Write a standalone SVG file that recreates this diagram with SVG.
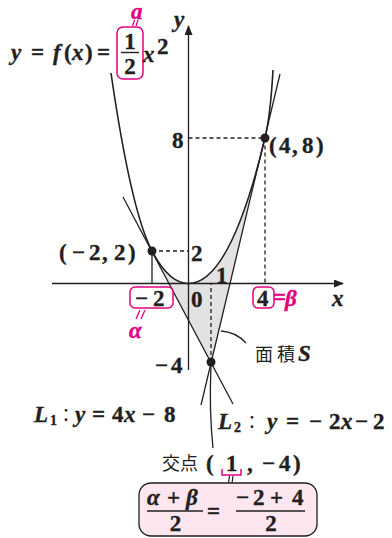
<svg xmlns="http://www.w3.org/2000/svg" width="392" height="538" viewBox="0 0 392 538">
<defs>
<style>
.t{font-family:"Liberation Serif","Times New Roman",serif;font-weight:bold;font-size:23px;fill:#231f20;stroke:#231f20;stroke-width:0.35}
.i{font-style:italic}
.n{font-style:normal}
.m{fill:#e4007f;stroke:#e4007f}
.j{font-family:"Noto Sans CJK JP",sans-serif;font-weight:normal;font-size:18px;fill:#231f20;stroke:none}
.ln{stroke:#231f20;stroke-width:1.3;fill:none}
.cv{stroke:#231f20;stroke-width:1.6;fill:none}
.ds{stroke:#231f20;stroke-width:1.3;stroke-dasharray:4 3;fill:none}
.mb{stroke:#e4007f;stroke-width:1.5;fill:#fff}
.mk{stroke:#e4007f;stroke-width:1.3;fill:none}
.dot{fill:#231f20}
</style>
<marker id="arr" viewBox="0 0 10 8" refX="9" refY="4" markerWidth="11" markerHeight="8" markerUnits="userSpaceOnUse" orient="auto">
<path d="M0,0 L10,4 L0,8 Z" fill="#231f20"/>
</marker>
</defs>
<rect width="392" height="538" fill="#fff"/>
<g id="area-S">
<path d="M152,251 Q169,283.5 188.5,283.5 Q230,283.5 265,138 L211,362 Z" fill="#e2e2e3"/>
</g>
<g id="connectors">
<line class="ln" x1="52" y1="283.5" x2="343" y2="283.5" marker-end="url(#arr)"/>
<line class="ln" x1="188.5" y1="370" x2="188.5" y2="26" marker-end="url(#arr)"/>
<path class="ds" d="M188.5,138 H265 V283.5"/>
<path class="ds" d="M152,251 H188.5"/>
<line class="ln" x1="152" y1="251" x2="152" y2="283.5"/>
<path class="ds" d="M211,362 V284"/>
<path class="cv" d="M111,73 Q131,211 152,251 Q169,283.5 188.5,283.5 Q230,283.5 265,138 Q270.5,115 273,70"/>
<line class="ln" x1="280" y1="74" x2="201" y2="405"/>
<line class="ln" x1="123" y1="197" x2="233" y2="404"/>
<path class="ln" d="M221,331 Q236,332 246,343"/>
<path class="ln" d="M211,366 Q209,410 213,448"/>
</g>
<g id="points">
<circle class="dot" cx="152" cy="251" r="4.5"/>
<circle class="dot" cx="265" cy="138" r="4.5"/>
<circle class="dot" cx="211" cy="362" r="4.5"/>
</g>
<g id="label-fx">
<text class="t i" y="60"><tspan x="11">y</tspan><tspan class="n" x="31">=</tspan><tspan x="53">f</tspan><tspan class="n" x="64">(</tspan><tspan x="72">x</tspan><tspan class="n" x="85">)</tspan><tspan class="n" x="97">=</tspan></text>
<rect class="mb" x="117" y="27" width="26" height="52" rx="6"/>
<text class="t" x="130" y="49" text-anchor="middle">1</text>
<line x1="121" y1="52.5" x2="139" y2="52.5" stroke="#231f20" stroke-width="1.4"/>
<text class="t" x="130" y="74" text-anchor="middle">2</text>
<text class="t i" x="143" y="62">x</text>
<text class="t" x="157" y="54" font-size="12">2</text>
<text class="t i m" x="131" y="19">a</text>
<path class="mk" d="M132.5,26 L134.5,20 M136,26 L138,20"/>
</g>
<g id="axis-labels">
<text class="t i" x="174" y="27">y</text>
<text class="t i" x="332" y="306">x</text>
<text class="t" x="191" y="307">0</text>
<text class="t" x="216" y="283" font-size="19">1</text>
<text class="t" x="191" y="261">2</text>
<text class="t" x="172" y="148">8</text>
<text class="t" y="373"><tspan x="155">−</tspan><tspan x="171">4</tspan></text>
</g>
<g id="label-p2">
<text class="t" y="153"><tspan x="269">(</tspan><tspan x="279">4</tspan><tspan x="292">,</tspan><tspan x="302">8</tspan><tspan x="316">)</tspan></text>
</g>
<g id="label-p1">
<text class="t" y="260"><tspan x="59">(</tspan><tspan x="72">−</tspan><tspan x="89">2</tspan><tspan x="102">,</tspan><tspan x="114">2</tspan><tspan x="128">)</tspan></text>
</g>
<g id="label-alpha">
<rect class="mb" x="130" y="287" width="43" height="21" rx="5"/>
<text class="t" y="306"><tspan x="135">−</tspan><tspan x="153">2</tspan></text>
<path class="mk" d="M136,319 L140,310 M141,319 L145,310"/>
<text class="t i m" x="129" y="338">α</text>
</g>
<g id="label-beta">
<rect class="mb" x="253" y="287" width="21" height="21" rx="5"/>
<text class="t" x="257" y="306">4</text>
<text class="t m" x="273" y="305" font-weight="normal" font-size="19">=</text>
<text class="t i m" x="285" y="306">β</text>
</g>
<g id="label-S">
<text class="j" x="255" y="361">面</text>
<text class="j" x="277" y="361">積</text>
<text class="t i" x="298" y="361">S</text>
</g>
<g id="label-L1">
<text class="t" y="422"><tspan class="i" x="34">L</tspan><tspan x="50" font-size="14" dy="3">1</tspan><tspan class="j" x="57" dy="-3">：</tspan><tspan class="i" x="75">y</tspan><tspan x="92">=</tspan><tspan x="112">4</tspan><tspan class="i" x="124">x</tspan><tspan x="142">−</tspan><tspan x="164">8</tspan></text>
</g>
<g id="label-L2">
<text class="t" y="429"><tspan class="i" x="218">L</tspan><tspan x="234" font-size="14" dy="3">2</tspan><tspan class="j" x="243" dy="-3">：</tspan><tspan class="i" x="267">y</tspan><tspan x="286">=</tspan><tspan x="309">−</tspan><tspan x="329">2</tspan><tspan class="i" x="341">x</tspan><tspan x="355">−</tspan><tspan x="373">2</tspan></text>
</g>
<g id="label-Q">
<text class="j" x="162" y="470">交</text>
<text class="j" x="180" y="470">点</text>
<text class="t" y="471"><tspan x="206">(</tspan><tspan x="226">1</tspan><tspan x="247">,</tspan><tspan x="262">−</tspan><tspan x="279">4</tspan><tspan x="293">)</tspan></text>
<path d="M222,469 V475 H241 V469" fill="none" stroke="#e4007f" stroke-width="1.5"/>
<path d="M228.5,483 L229.5,476 M232,483 L233,476" fill="none" stroke="#231f20" stroke-width="1.2"/>
</g>
<g id="formula-box">
<rect x="139" y="483" width="178" height="53" rx="12" fill="#fce6ef" stroke="#231f20" stroke-width="1.3"/>
<text class="t" y="505"><tspan class="i" x="147">α</tspan><tspan x="167">+</tspan><tspan class="i" x="186">β</tspan></text>
<line x1="147" y1="511" x2="203" y2="511" stroke="#231f20" stroke-width="1.3"/>
<text class="t" x="175.5" y="531" text-anchor="middle">2</text>
<text class="t" x="207" y="519">=</text>
<text class="t" y="505"><tspan x="236">−</tspan><tspan x="253">2</tspan><tspan x="270">+</tspan><tspan x="292">4</tspan></text>
<line x1="236" y1="511" x2="305" y2="511" stroke="#231f20" stroke-width="1.3"/>
<text class="t" x="271" y="531" text-anchor="middle">2</text>
</g>
</svg>
